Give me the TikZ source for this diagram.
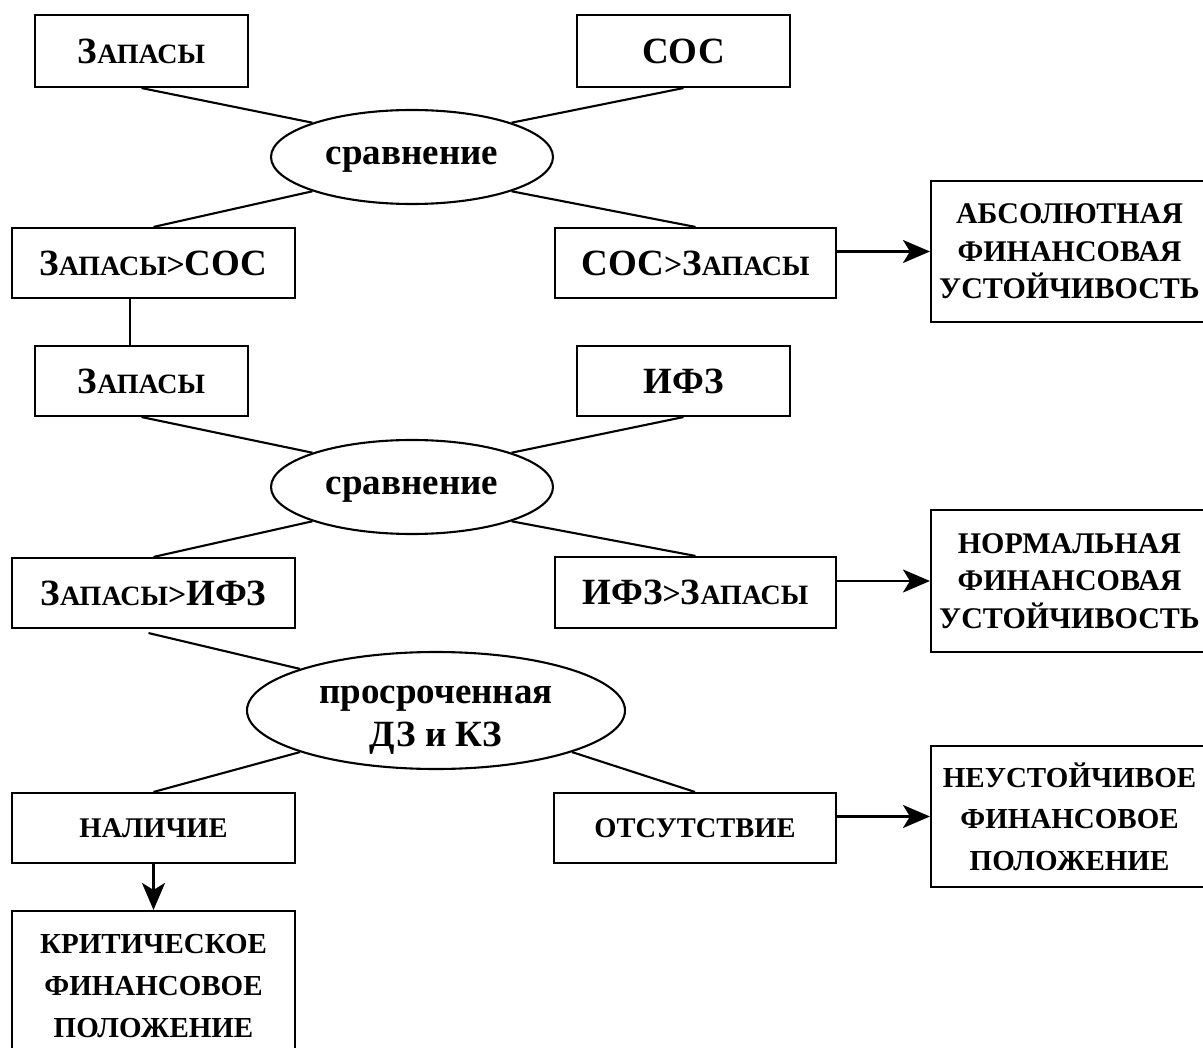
\documentclass[tikz,border=0pt]{standalone}
\usepackage{fontspec}
\setmainfont{Liberation Serif}
\usetikzlibrary{arrows.meta,shapes.geometric,calc}
\newcommand\fsz[2]{\fontsize{#1}{#2}\selectfont}
\newcommand\zapsc{З{\fsz{28}{28}АПАСЫ}}
\newcommand\gtsc{{\fsz{32}{32}>}}
% text placed with its first baseline at a given offset from the node centre, taking no room
\newcommand\ovtext[2]{\makebox[0pt]{\smash{\raisebox{#1}{\parbox[t]{360pt}{\centering #2}}}}}
\begin{document}
\begin{tikzpicture}[x=1pt,y=-1pt,
  box/.style={draw, line width=2.1pt, rectangle, inner sep=0pt, align=center, font=\bfseries\fsz{37}{44}},
  oval/.style={draw, ellipse, line width=2.1pt, inner sep=0pt, font=\bfseries\fsz{37}{43}},
  res/.style={draw, line width=2.1pt, rectangle, inner sep=0pt, align=center, minimum width=277pt, font=\bfseries\fsz{30}{37.5}},
  res2/.style={res, font=\bfseries\fsz{29}{41.7}},
  small/.style={box, font=\bfseries\fsz{28.5}{34}},
  link/.style={line width=2.1pt},
  arr/.style={line width=2.1pt, -{Stealth[length=27pt,width=23pt,inset=7pt]}},
]
\useasboundingbox (0,0) rectangle (1203,1048);
\clip (0,0) rectangle (1203,1048);

% stage 1
\node[box, minimum width=213pt, minimum height=72pt] (zap1) at (141.5,51) {\zapsc};
\node[box, minimum width=213pt, minimum height=72pt] (cos) at (683.5,51) {СОС};
\node[oval, minimum width=282pt, minimum height=94pt] (ell1) at (412,157) {\ovtext{-8pt}{сравнение}};
\node[box, minimum width=283pt, minimum height=70pt] (zs) at (153.5,263) {\zapsc\gtsc СОС};
\node[box, minimum width=281pt, minimum height=70pt] (sz) at (695.5,263) {СОС\gtsc\zapsc};
\node[res, minimum height=141pt] (abs) at (1069.5,251.5) {АБСОЛЮТНАЯ\\ФИНАНСОВАЯ\\УСТОЙЧИВОСТЬ};

% stage 2
\node[box, minimum width=213pt, minimum height=70pt] (zap2) at (141.5,381) {\zapsc};
\node[box, minimum width=213pt, minimum height=70pt] (ifz) at (683.5,381) {ИФЗ};
\node[oval, minimum width=282pt, minimum height=94pt] (ell2) at (412,487) {\ovtext{-8pt}{сравнение}};
\node[box, minimum width=283pt, minimum height=70pt] (zi) at (153.5,593) {\zapsc\gtsc ИФЗ};
\node[box, minimum width=281pt, minimum height=71pt] (iz) at (695.5,592.5) {ИФЗ\gtsc\zapsc};
\node[res, minimum height=142pt] (norm) at (1069.5,581) {НОРМАЛЬНАЯ\\ФИНАНСОВАЯ\\УСТОЙЧИВОСТЬ};

% stage 3
\node[oval, minimum width=378pt, minimum height=117pt] (ell3) at (436,710.5) {\ovtext{7.5pt}{просроченная\\ДЗ и КЗ}};
\node[small, minimum width=283pt, minimum height=70pt] (nal) at (153.5,828) {НАЛИЧИЕ};
\node[small, minimum width=282pt, minimum height=70pt] (ots) at (695,828) {ОТСУТСТВИЕ};
\node[res2, minimum height=141pt] (neu) at (1069.5,816.5) {НЕУСТОЙЧИВОЕ\\ФИНАНСОВОЕ\\ПОЛОЖЕНИЕ};
\node[res2, minimum width=283pt, minimum height=150pt] (krit) at (153.5,986) {КРИТИЧЕСКОЕ\\ФИНАНСОВОЕ\\ПОЛОЖЕНИЕ};

% connectors stage 1
\draw[link] (zap1.south) -- (ell1.161);
\draw[link] (cos.south) -- (ell1.19);
\draw[link] (ell1.199) -- (zs.north);
\draw[link] (ell1.341) -- (sz.north);
\draw[arr] (sz.east |- abs.west) -- (abs.west);
\coordinate (v1) at ([xshift=-23.5pt]zs.south);
\draw[link] (v1) -- (v1 |- zap2.north);

% connectors stage 2
\draw[link] (zap2.south) -- (ell2.161);
\draw[link] (ifz.south) -- (ell2.19);
\draw[link] (ell2.199) -- (zi.north);
\draw[link] (ell2.341) -- (iz.north);
\draw[arr] (iz.east |- norm.west) -- (norm.west);

% connectors stage 3
\coordinate (v2) at ([xshift=-5pt,yshift=-4pt]zi.south);
\draw[link] (v2) -- (ell3.163);
\draw[link] (ell3.197) -- (nal.north);
\draw[link] (ell3.343) -- (ots.north);
\draw[arr] (ots.east |- neu.west) -- (neu.west);
\draw[arr] (nal.south) -- (krit.north);
\end{tikzpicture}
\end{document}
